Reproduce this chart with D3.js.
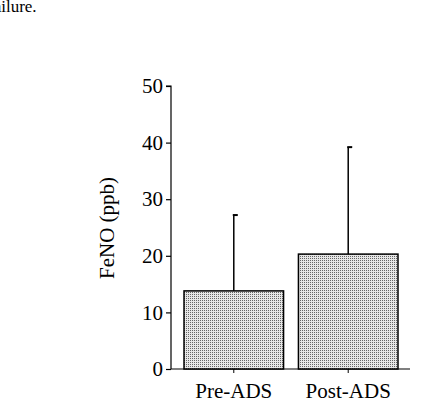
<!DOCTYPE html>
<html><head><meta charset="utf-8">
<script src="https://cdn.jsdelivr.net/npm/d3@7"></script>
<style>body{margin:0;background:#fff}</style></head>
<body><script>
const categories = ["Pre-ADS", "Post-ADS"];
const means = [13.8, 20.3];
const sds = [27.2 - 13.8, 39.2 - 20.3];
const yTicks = [0, 10, 20, 30, 40, 50];

const W = 423, H = 411;
const FONT = "'Liberation Serif','Times New Roman',serif";
const svg = d3.select("body").append("svg").attr("width", W).attr("height", H)
  .style("font-family", FONT);

const defs = svg.append("defs");
const pat = defs.append("pattern").attr("id", "dots").attr("width", 2).attr("height", 2)
  .attr("patternUnits", "userSpaceOnUse");
pat.append("rect").attr("width", 2).attr("height", 2).attr("fill", "#e6e6e6");
pat.append("rect").attr("width", 1).attr("height", 1).attr("fill", "#666");

svg.append("text").attr("x", -12).attr("y", 12).attr("font-size", 17).text("failure.");

const y = d3.scaleLinear().domain([0, 50]).range([369, 86]);
const x = d3.scaleBand().domain(categories).range([176, 406]).paddingInner(0.13).paddingOuter(0.07);

const yAxis = svg.append("g").attr("transform", "translate(171,0)")
  .call(d3.axisLeft(y).tickValues(yTicks).tickSize(5).tickPadding(3))
  .attr("font-family", FONT).attr("font-size", 21);
yAxis.selectAll("text").attr("fill", "#000");
yAxis.selectAll("line,path").attr("stroke", "#000").attr("stroke-width", 1.2);
yAxis.select("path").attr("d", `M-5,${y(50)}H0V${y(0)}`);

const xAxis = svg.append("g").attr("transform", "translate(0,369)")
  .call(d3.axisBottom(x).tickSize(4).tickPadding(10))
  .attr("font-family", FONT).attr("font-size", 21);
xAxis.select("path").attr("d", "M171,0H410").attr("stroke", "#000").attr("stroke-width", 1.2);
xAxis.selectAll("line").attr("stroke", "#000");
xAxis.selectAll("text").attr("fill", "#000");

categories.forEach((c, i) => {
  const cx = x(c) + x.bandwidth() / 2;
  svg.append("line").attr("x1", cx).attr("x2", cx).attr("y1", y(means[i])).attr("y2", y(means[i] + sds[i]))
    .attr("stroke", "#000").attr("stroke-width", 1.5);
  svg.append("line").attr("x1", cx - 1).attr("x2", cx + 4).attr("y1", y(means[i] + sds[i])).attr("y2", y(means[i] + sds[i]))
    .attr("stroke", "#000").attr("stroke-width", 2);
});

svg.selectAll("rect.bar").data(categories).enter().append("rect").attr("class", "bar")
  .attr("x", d => x(d)).attr("width", x.bandwidth())
  .attr("y", (d, i) => y(means[i])).attr("height", (d, i) => y(0) - y(means[i]))
  .attr("fill", "url(#dots)").attr("stroke", "#000").attr("stroke-width", 1.5);

svg.append("text").attr("transform", "translate(114,228) rotate(-90)")
  .attr("text-anchor", "middle").attr("font-size", 21).text("FeNO (ppb)");
</script></body></html>
